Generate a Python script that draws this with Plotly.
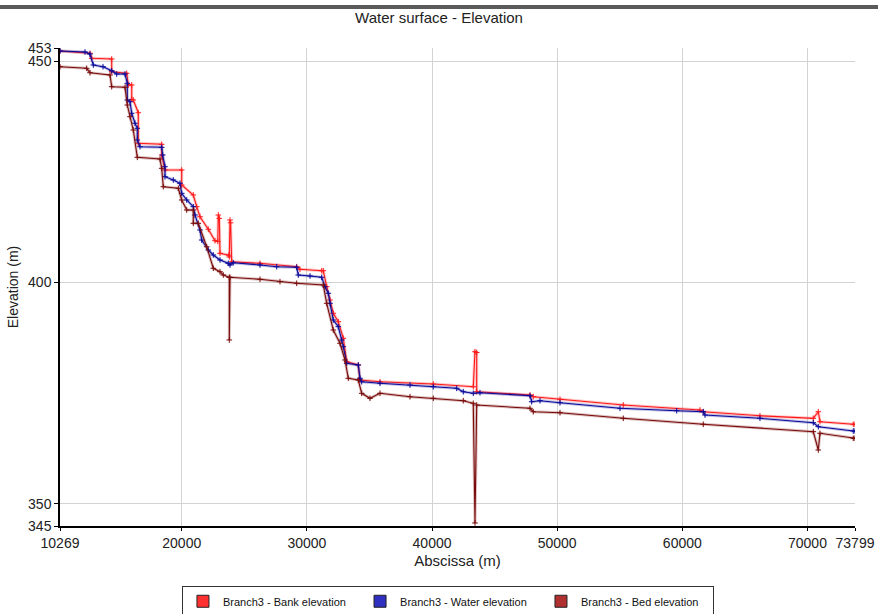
import plotly.graph_objects as go

# ---------------- data ----------------
bank_x = [10269, 12666, 12802, 14400, 14400, 15599, 15727, 15999, 15999, 16126, 16526, 16526,
          18396, 18396, 18659, 19994, 19994, 20921, 21193, 21456, 22120, 22655, 22880, 22919,
          23000, 23055, 23760, 23798, 23854, 23900, 23990, 26251, 29184, 29447, 31182, 31309,
          31581, 31845, 32108, 32508, 32908, 33179, 34106, 34242, 35840, 40099, 43295, 43432,
          43567, 43567, 47827, 48090, 50224, 55282, 61411, 61675, 66206, 70466, 70866, 71001,
          73662, 73799]
bank_y = [452.32, 451.80, 450.67, 450.51, 447.65, 447.28, 444.64, 444.64, 441.41, 441.25, 438.38, 431.47,
          431.24, 428.82, 425.44, 425.44, 422.05, 419.79, 417.14, 414.88, 412.04, 409.46, 409.30, 415.27,
          414.50, 406.61, 406.20, 405.80, 414.14, 413.50, 404.72, 404.35, 403.59, 403.00, 402.68, 402.68,
          399.07, 396.06, 393.06, 391.16, 387.41, 382.12, 381.38, 377.99, 377.60, 377.08, 376.47, 384.38,
          384.20, 375.34, 374.60, 374.21, 373.63, 372.34, 371.21, 370.82, 369.90, 369.33, 370.82, 368.57,
          367.98, 367.98]

water_x = [10269, 12267, 12666, 12930, 13705, 14400, 14800, 15463, 15647, 15647, 15863, 15999,
           16262, 16446, 16446, 16662, 18396, 18476, 18659, 18659, 19323, 19858, 19994, 20394,
           20921, 21057, 21456, 21592, 22120, 22519, 23055, 23718, 23854, 24118, 26251, 27586,
           29184, 29311, 30247, 31182, 31445, 31709, 31845, 32108, 32508, 32780, 32908, 33179,
           34106, 34242, 34377, 35840, 38238, 40099, 41969, 42496, 43295, 43831, 47827, 47962,
           48626, 50224, 55019, 59549, 61675, 61811, 66206, 70466, 70866, 73662, 73799]
water_y = [452.32, 452.10, 451.64, 449.16, 448.77, 447.87, 447.13, 447.13, 445.02, 441.25, 440.87, 438.25,
           435.99, 434.86, 432.21, 430.70, 430.56, 428.82, 426.18, 423.92, 423.18, 422.43, 420.17, 418.66,
           417.14, 415.27, 411.88, 409.62, 407.36, 406.23, 405.10, 404.35, 403.97, 404.49, 403.97, 403.59,
           403.45, 401.71, 401.49, 401.19, 399.07, 397.58, 395.32, 391.54, 390.03, 387.03, 385.51, 381.76,
           381.38, 378.37, 377.60, 377.24, 376.86, 376.47, 376.11, 375.34, 374.98, 375.12, 374.44, 373.08,
           373.31, 372.86, 371.59, 371.05, 370.82, 370.08, 369.33, 368.34, 367.44, 366.46, 366.46]

bed_x = [10269, 12403, 12666, 14265, 14400, 15463, 15647, 15863, 16126, 16446, 18260, 18396,
         18524, 19722, 19994, 20394, 20921, 20921, 21320, 21992, 22519, 23055, 23318, 23798,
         23798, 23854, 26251, 27849, 29184, 31309, 31581, 32108, 32644, 33043, 33307, 34106,
         34377, 35041, 35840, 38238, 40099, 42496, 43295, 43432, 43567, 47827, 48090, 50224,
         55282, 61675, 70466, 70866, 71001, 73662, 73799]
bed_y = [448.77, 448.41, 447.42, 446.90, 444.26, 444.12, 440.12, 437.48, 434.47, 428.30, 427.92, 425.82,
         421.66, 421.30, 418.66, 416.40, 416.40, 413.39, 413.39, 408.10, 403.23, 402.46, 401.71, 401.19,
         387.03, 401.19, 400.74, 400.20, 399.84, 399.45, 395.32, 389.28, 386.28, 382.51, 378.37, 377.99,
         374.98, 373.85, 374.98, 374.21, 373.85, 373.31, 372.72, 345.68, 372.34, 371.59, 370.82, 370.60,
         369.33, 367.98, 366.31, 362.17, 365.95, 364.82, 364.82]

series_names = ["Branch3 - Bank elevation", "Branch3 - Water elevation", "Branch3 - Bed elevation"]
x_tickvals = [10269, 20000, 30000, 40000, 50000, 60000, 70000, 73799]
y_tickvals = [345, 350, 400, 450, 453]

# ---------------- styling ----------------
line_colors = ["#FF1A1A", "#0A0A9A", "#7A0A0A"]
legend_fill = ["#FF3030", "#3030C0", "#B03030"]
font = "Arial, Liberation Sans, sans-serif"

fig = go.Figure()
series = [(bank_x, bank_y), (water_x, water_y), (bed_x, bed_y)]
for (xs, ys), name, col in zip(series, series_names, line_colors):
    # faint halo
    fig.add_trace(go.Scatter(x=xs, y=ys, mode="lines", line=dict(color=col, width=3),
                             opacity=0.25, showlegend=False, hoverinfo="skip"))
    fig.add_trace(go.Scatter(x=xs, y=ys, mode="lines+markers", name=name,
                             line=dict(color=col, width=1.1),
                             marker=dict(symbol="cross-thin", size=4, color=col,
                                         line=dict(color=col, width=1)),
                             showlegend=False))
for name, fc in zip(series_names, legend_fill):
    fig.add_trace(go.Scatter(x=[None], y=[None], mode="markers", name=name + "   ",
                             marker=dict(symbol="square", size=12, color=fc,
                                         line=dict(color="#222222", width=1)),
                             showlegend=True))

fig.update_layout(
    width=878, height=614,
    margin=dict(l=60, r=23, t=48, b=88, autoexpand=False),
    paper_bgcolor="white", plot_bgcolor="white",
    font=dict(family=font, color="#222222", size=13),
    title=dict(text="Water surface - Elevation", x=0.5, xanchor="center",
               y=1 - 18 / 614, yanchor="middle", yref="container",
               font=dict(size=15, color="#222222", family=font)),
    showlegend=True,
    legend=dict(orientation="h", x=0.488, xanchor="center", y=-0.125, yanchor="top",
                bordercolor="#333333", borderwidth=1, bgcolor="white",
                font=dict(size=11, color="#111111", family=font),
                itemwidth=30, tracegroupgap=0),
    shapes=[dict(type="rect", xref="paper", yref="paper", x0=-0.08, x1=1.04,
                 y0=(526 - 9) / 478, y1=(526 - 5) / 478, fillcolor="#5a5a5a",
                 line=dict(width=0), layer="above")],
)

fig.update_xaxes(range=[10269, 73799], tickmode="array", tickvals=x_tickvals,
                 ticktext=[str(v) for v in x_tickvals], automargin=False,
                 showgrid=True, gridcolor="#d3d3d3", gridwidth=1,
                 showline=True, linecolor="black", linewidth=1.5,
                 ticks="outside", ticklen=3, tickcolor="black",
                 zeroline=False, tickfont=dict(size=14),
                 title=dict(text="Abscissa (m)", standoff=6, font=dict(size=15)))
fig.update_yaxes(range=[345, 453], tickmode="array", tickvals=y_tickvals,
                 ticktext=[str(v) for v in y_tickvals], automargin=False,
                 showgrid=True, gridcolor="#d3d3d3", gridwidth=1,
                 showline=True, linecolor="black", linewidth=1.5,
                 ticks="outside", ticklen=4, tickcolor="black",
                 zeroline=False, tickfont=dict(size=14),
                 title=dict(text="Elevation (m)", standoff=6, font=dict(size=14)))

fig.write_html("out.html")
